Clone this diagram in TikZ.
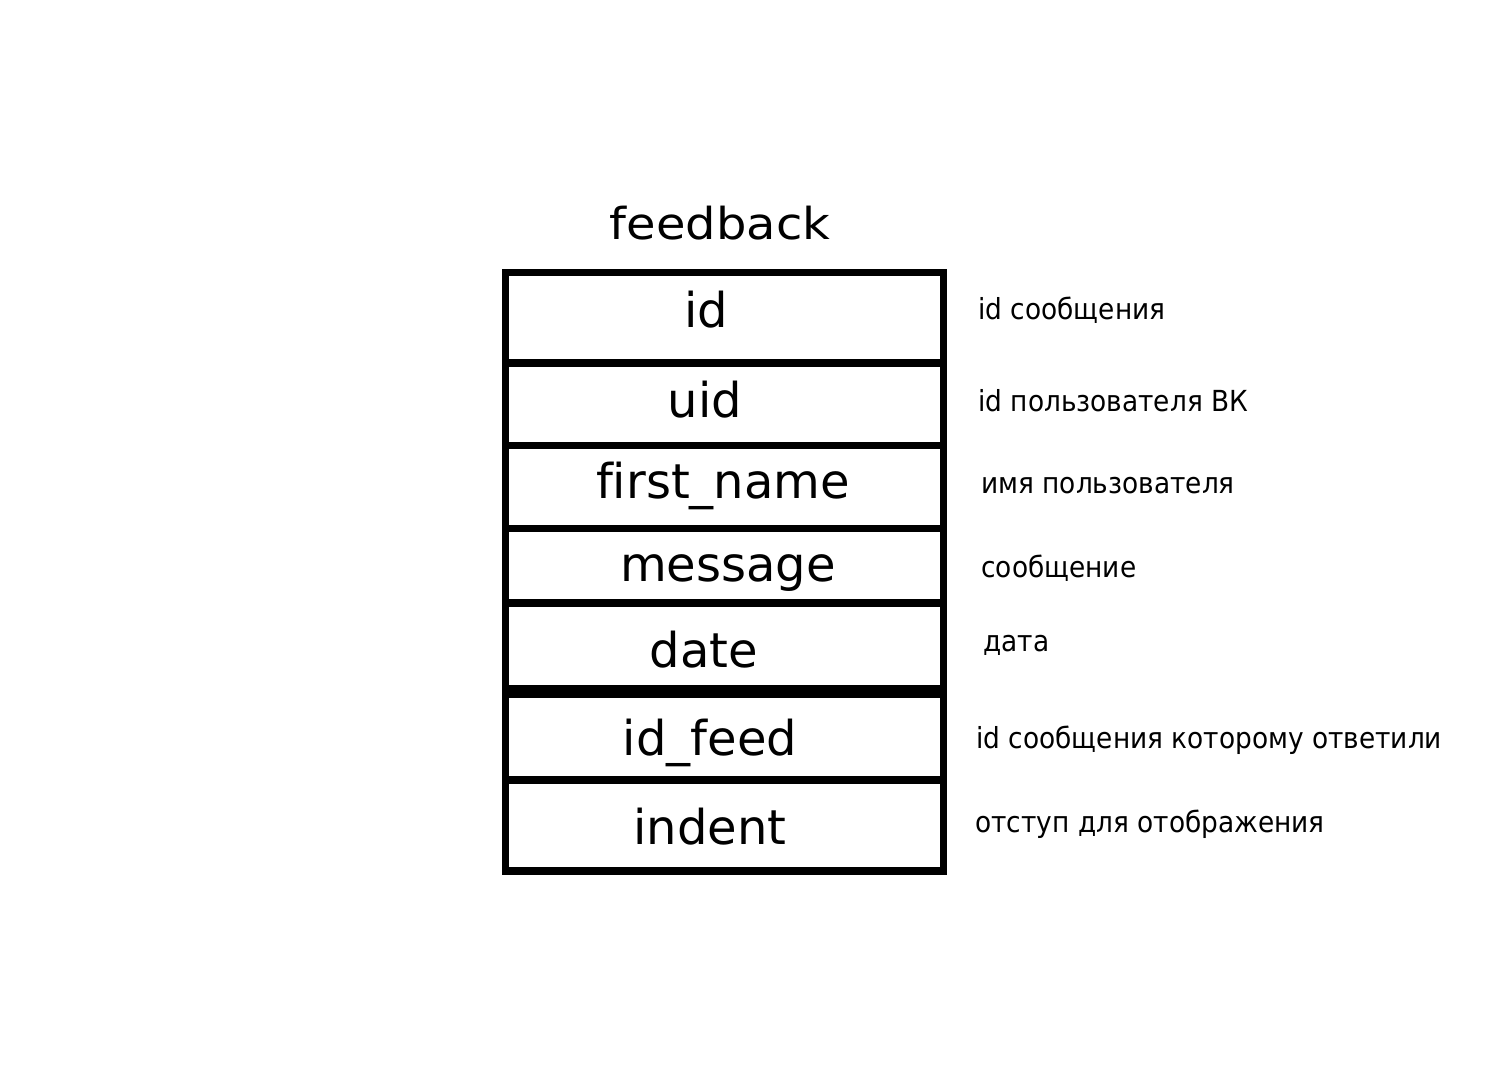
\documentclass[tikz,border=0pt]{standalone}
\usepackage{fontspec}
\setmainfont{DejaVu Sans}[Ligatures=CommonOff]
\newfontfamily\notefont{DejaVu Sans}[FakeStretch=0.91]
\newfontfamily\titlefont{DejaVu Sans}[FakeStretch=1.09]
\begin{document}
\begin{tikzpicture}[x=0.5pt,y=-0.5pt]
    % Define styles
    \tikzset{
        row/.style={draw, line width=3.75pt, minimum width=219pt, inner sep=0pt, outer sep=0pt, anchor=north west},
        field/.style={anchor=base, inner sep=0pt, font=\fontsize{24}{28}\selectfont},
        note/.style={anchor=base west, inner sep=0pt, font=\notefont\fontsize{14.5}{17}\selectfont},
        tabletitle/.style={anchor=base, inner sep=0pt, font=\titlefont\fontsize{22}{26}\selectfont}
    }

    % Canvas
    \useasboundingbox (0,0) rectangle (1512,1080);

    % Table rows
    \foreach \name/\top/\rowh in {id/272.5/45.25pt, uid/363/41.25pt, fname/445.5/41.5pt,
        message/528.5/37.25pt, date/603/44.25pt, idfeed/691.5/44.25pt, indent/780/45.5pt} {
        \node[row, minimum height=\rowh] (\name) at (505.5,\top) {};
    }
    % Thicker line between date and id_feed
    \fill (502,685) rectangle (947,698);

    % Table title
    \node[tabletitle] (title) at (720,240) {feedback};

    % Field names
    \node[field] (id-text) at (706,328) {id};
    \node[field] (uid-text) at (705,418) {uid};
    \node[field] (fname-text) at (723,499) {first\_name};
    \node[field] (message-text) at (728,582) {message};
    \node[field] (date-text) at (704,668) {date};
    \node[field] (idfeed-text) at (710,755) {id\_feed};
    \node[field] (indent-text) at (710,845) {indent};

    % Descriptions
    \node[note] (id-note) at (978,320) {id сообщения};
    \node[note] (uid-note) at (978,412) {id пользователя ВК};
    \node[note] (fname-note) at (981,494) {имя пользователя};
    \node[note] (message-note) at (981,578) {сообщение};
    \node[note] (date-note) at (983,652) {дата};
    \node[note] (idfeed-note) at (976,748) {id сообщения которому ответили};
    \node[note] (indent-note) at (975,833) {отступ для отображения};
\end{tikzpicture}
\end{document}
